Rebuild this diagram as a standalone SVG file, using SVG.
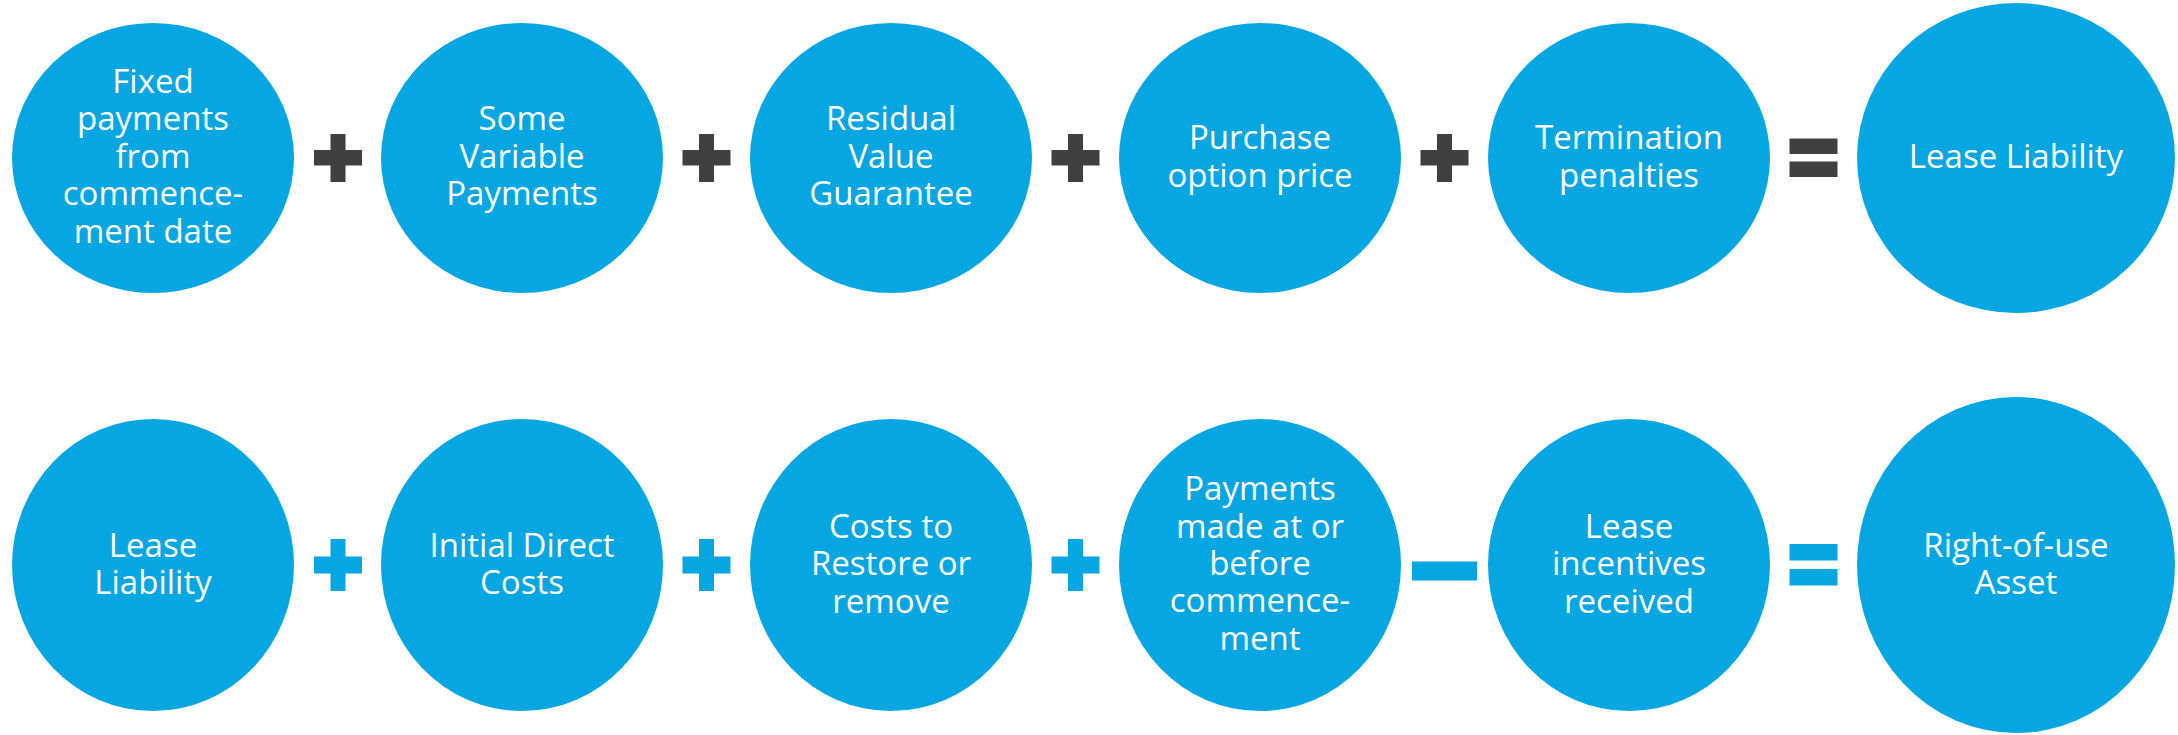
<svg xmlns="http://www.w3.org/2000/svg" width="2178" height="735" viewBox="0 0 2178 735">
  <style>
    .node { fill: #05A6E1; }
    .label { fill: #FFFFFF; font-family: "Open Sans", "Liberation Sans", sans-serif; font-size: 33px; text-anchor: middle; }
    .op-dark { fill: #404040; }
    .op-blue { fill: #05A6E1; }
  </style>
  <rect width="2178" height="735" fill="#FFFFFF"/>

  <!-- Row 1: lease liability build-up -->
  <g id="fixed-payments">
    <ellipse class="node" cx="153" cy="158" rx="141" ry="135"/>
    <text class="label" x="153"><tspan x="153" y="93">Fixed</tspan><tspan x="153" y="130">payments</tspan><tspan x="153" y="168">from</tspan><tspan x="153" y="205">commence-</tspan><tspan x="153" y="243">ment date</tspan></text>
  </g>
  <g id="variable-payments">
    <ellipse class="node" cx="522" cy="158" rx="141" ry="135"/>
    <text class="label"><tspan x="522" y="130">Some</tspan><tspan x="522" y="168">Variable</tspan><tspan x="522" y="205">Payments</tspan></text>
  </g>
  <g id="residual-value">
    <ellipse class="node" cx="891" cy="158" rx="141" ry="135"/>
    <text class="label"><tspan x="891" y="130">Residual</tspan><tspan x="891" y="168">Value</tspan><tspan x="891" y="205">Guarantee</tspan></text>
  </g>
  <g id="purchase-option">
    <ellipse class="node" cx="1260" cy="158" rx="141" ry="135"/>
    <text class="label"><tspan x="1260" y="149">Purchase</tspan><tspan x="1260" y="187">option price</tspan></text>
  </g>
  <g id="termination-penalties">
    <ellipse class="node" cx="1629" cy="158" rx="141" ry="135"/>
    <text class="label"><tspan x="1629" y="149">Termination</tspan><tspan x="1629" y="187">penalties</tspan></text>
  </g>
  <g id="lease-liability">
    <ellipse class="node" cx="2016" cy="158" rx="159" ry="155"/>
    <text class="label" x="2016" y="168">Lease Liability</text>
  </g>

  <!-- Row 2: right-of-use asset build-up -->
  <g id="lease-liability-in">
    <ellipse class="node" cx="153" cy="565" rx="141" ry="146"/>
    <text class="label"><tspan x="153" y="557">Lease</tspan><tspan x="153" y="594">Liability</tspan></text>
  </g>
  <g id="initial-direct-costs">
    <ellipse class="node" cx="522" cy="565" rx="141" ry="146"/>
    <text class="label"><tspan x="522" y="557">Initial Direct</tspan><tspan x="522" y="594">Costs</tspan></text>
  </g>
  <g id="restoration-costs">
    <ellipse class="node" cx="891" cy="565" rx="141" ry="146"/>
    <text class="label"><tspan x="891" y="538">Costs to</tspan><tspan x="891" y="575">Restore or</tspan><tspan x="891" y="613">remove</tspan></text>
  </g>
  <g id="prepayments">
    <ellipse class="node" cx="1260" cy="565" rx="141" ry="146"/>
    <text class="label"><tspan x="1260" y="500">Payments</tspan><tspan x="1260" y="538">made at or</tspan><tspan x="1260" y="575">before</tspan><tspan x="1260" y="612">commence-</tspan><tspan x="1260" y="650">ment</tspan></text>
  </g>
  <g id="lease-incentives">
    <ellipse class="node" cx="1629" cy="565" rx="141" ry="146"/>
    <text class="label"><tspan x="1629" y="538">Lease</tspan><tspan x="1629" y="575">incentives</tspan><tspan x="1629" y="613">received</tspan></text>
  </g>
  <g id="right-of-use-asset">
    <ellipse class="node" cx="2016" cy="565" rx="159" ry="168"/>
    <text class="label"><tspan x="2016" y="557">Right-of-use</tspan><tspan x="2016" y="594">Asset</tspan></text>
  </g>

  <!-- Operators between terms -->
  <g id="connectors">
    <!-- row 1: plus signs -->
    <g class="op-dark">
      <rect x="330.5" y="134" width="15" height="48"/><rect x="314" y="150" width="48" height="15.5"/>
      <rect x="699" y="134" width="15" height="48"/><rect x="682.5" y="150" width="48" height="15.5"/>
      <rect x="1068" y="134" width="15" height="48"/><rect x="1051.5" y="150" width="48" height="15.5"/>
      <rect x="1437" y="134" width="15" height="48"/><rect x="1420.5" y="150" width="48" height="15.5"/>
      <!-- equals -->
      <rect x="1789.5" y="138.5" width="48" height="15.5"/><rect x="1789.5" y="161.5" width="48" height="15.5"/>
    </g>
    <!-- row 2: plus, minus, equals -->
    <g class="op-blue">
      <rect x="330.5" y="539" width="15" height="52"/><rect x="314" y="556.5" width="48" height="17"/>
      <rect x="699" y="539" width="15" height="52"/><rect x="682.5" y="556.5" width="48" height="17"/>
      <rect x="1068" y="539" width="15" height="52"/><rect x="1051.5" y="556.5" width="48" height="17"/>
      <rect x="1412" y="561.5" width="65" height="19"/>
      <rect x="1789.5" y="544" width="48" height="16.5"/><rect x="1789.5" y="569" width="48" height="16.5"/>
    </g>
  </g>
</svg>
